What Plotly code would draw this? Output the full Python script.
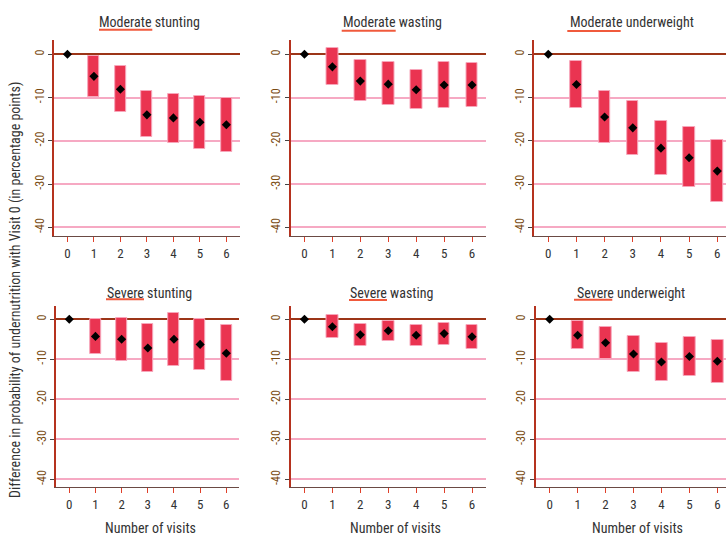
import plotly.graph_objects as go

visits = [0, 1, 2, 3, 4, 5, 6]
ytick_vals = [0, -10, -20, -30, -40]
ytick_text = ["0", "-10", "-20", "-30", "-40"]

title_prefix = ["Moderate", "Moderate", "Moderate", "Severe", "Severe", "Severe"]
title_rest = ["stunting", "wasting", "underweight", "stunting", "wasting", "underweight"]

# point estimates, upper and lower bounds (percentage points)
mod_stunting_est = [0, -5.1, -8.1, -14.0, -14.7, -15.7, -16.3]
mod_stunting_hi = [0, -0.4, -2.7, -8.6, -9.1, -9.7, -10.0]
mod_stunting_lo = [0, -9.9, -13.4, -19.1, -20.4, -21.8, -22.5]

mod_wasting_est = [0, -2.9, -6.2, -6.9, -8.2, -7.1, -7.1]
mod_wasting_hi = [0, 1.5, -1.4, -1.8, -3.7, -1.8, -1.9]
mod_wasting_lo = [0, -7.2, -10.9, -11.8, -12.7, -12.3, -12.1]

mod_under_est = [0, -7.0, -14.5, -17.0, -21.7, -23.9, -27.0]
mod_under_hi = [0, -1.6, -8.5, -10.8, -15.4, -16.9, -19.9]
mod_under_lo = [0, -12.4, -20.5, -23.3, -27.9, -30.7, -34.2]

sev_stunting_est = [0, -4.3, -5.0, -7.2, -5.0, -6.3, -8.5]
sev_stunting_hi = [0, 0.0, 0.4, -1.2, 1.5, 0.0, -1.4]
sev_stunting_lo = [0, -8.6, -10.4, -13.1, -11.6, -12.6, -15.5]

sev_wasting_est = [0, -1.9, -3.9, -2.9, -4.0, -3.6, -4.4]
sev_wasting_hi = [0, 1.0, -1.2, -0.5, -1.4, -0.9, -1.4]
sev_wasting_lo = [0, -4.7, -6.6, -5.4, -6.6, -6.5, -7.5]

sev_under_est = [0, -4.0, -5.9, -8.7, -10.7, -9.3, -10.5]
sev_under_hi = [0, -0.4, -2.0, -4.2, -5.9, -4.5, -5.2]
sev_under_lo = [0, -7.5, -10.0, -13.3, -15.5, -14.2, -16.0]

panels = [
    (mod_stunting_est, mod_stunting_hi, mod_stunting_lo),
    (mod_wasting_est, mod_wasting_hi, mod_wasting_lo),
    (mod_under_est, mod_under_hi, mod_under_lo),
    (sev_stunting_est, sev_stunting_hi, sev_stunting_lo),
    (sev_wasting_est, sev_wasting_hi, sev_wasting_lo),
    (sev_under_est, sev_under_hi, sev_under_lo),
]

W, H = 726, 537
FONT = "Liberation Sans Narrow, Roboto Condensed, DejaVu Sans Condensed, Arial Narrow, Roboto, sans-serif"

# layout in pixels (left, right, top, bottom, xmax)
px_dom = [
    (54.2, 239.6, 40, 236, 6.5),
    (290.5, 486.0, 40, 236, 6.5),
    (534.2, 726.0, 40, 236, 6.31),
    (56.2, 239.4, 306, 487.3, 6.5),
    (290.5, 486.0, 306, 487.3, 6.5),
    (535.7, 726.0, 306, 487.3, 6.31),
]

BAR = "#EA3451"
BAR_EDGE = "#F7A6BA"
GRID = "#F6A9C3"
ZERO = "#9C3518"

fig = go.Figure()
layout = {}
for i, ((est, hi, lo), (l, r, t, b, xmax)) in enumerate(zip(panels, px_dom)):
    n = i + 1
    xa = "x" if n == 1 else f"x{n}"
    ya = "y" if n == 1 else f"y{n}"
    fig.add_trace(go.Bar(
        x=visits[1:], base=lo[1:], y=[h - q for h, q in zip(hi[1:], lo[1:])],
        width=0.42, marker=dict(color=BAR, line=dict(color=BAR_EDGE, width=1)),
        xaxis=xa, yaxis=ya, showlegend=False, hoverinfo="skip"))
    fig.add_trace(go.Scatter(
        x=visits, y=est, mode="markers",
        marker=dict(symbol="diamond", size=7, color="black"),
        xaxis=xa, yaxis=ya, showlegend=False))
    xk = "xaxis" if n == 1 else f"xaxis{n}"
    yk = "yaxis" if n == 1 else f"yaxis{n}"
    layout[xk] = dict(
        domain=[l / W, r / W], anchor=ya, range=[-0.5, xmax],
        tickvals=visits, ticks="outside", ticklen=5, tickcolor="#E0402A", tickwidth=1.2,
        showline=True, linecolor="#6A4A44", linewidth=1.3, showgrid=False, zeroline=False,
        tickfont=dict(family=FONT, size=13, color="#333333"), fixedrange=True)
    layout[yk] = dict(
        domain=[1 - b / H, 1 - t / H], anchor=xa, range=[-42, 3.3],
        tickvals=ytick_vals, ticktext=ytick_text, tickangle=-90,
        ticks="outside", ticklen=4, tickcolor="#444444", tickwidth=1.2,
        showline=True, linecolor="#B5321E", linewidth=1.5,
        showgrid=True, gridcolor=GRID, gridwidth=1.5,
        zeroline=True, zerolinecolor=ZERO, zerolinewidth=1.6,
        tickfont=dict(family=FONT, size=12, color="#7A4B12"), fixedrange=True)

title_pos = [(149.5, 22), (392, 22), (631.5, 22), (149.5, 292.5), (391.5, 292.5), (630.5, 292.5)]
underline = [(99, 152.3, 29.8), (341.7, 395.7, 30.8), (567.3, 620.7, 31), (106, 144, 299.3), (349, 387, 300), (574, 612.3, 299.7)]

annotations = []
shapes = []
for (cx, cy), pre, rest, (ux0, ux1, uy) in zip(title_pos, title_prefix, title_rest, underline):
    annotations.append(dict(
        x=cx / W, y=1 - cy / H, xref="paper", yref="paper", showarrow=False,
        text=f"{pre} {rest}", xanchor="center", yanchor="middle",
        font=dict(family=FONT, size=14, color="#333333")))
    shapes.append(dict(type="line", xref="paper", yref="paper",
                       x0=ux0 / W, x1=ux1 / W, y0=1 - uy / H, y1=1 - uy / H,
                       line=dict(color="#F05A3C", width=2)))

for cx in (150, 395, 637.7):
    annotations.append(dict(
        x=cx / W, y=1 - 527.5 / H, xref="paper", yref="paper", showarrow=False,
        text="Number of visits", xanchor="center", yanchor="middle",
        font=dict(family=FONT, size=14, color="#333333")))

annotations.append(dict(
    x=15 / W, y=1 - 290 / H, xref="paper", yref="paper", showarrow=False,
    text="Difference in probability of undernutrition with Visit 0 (in percentage points)",
    textangle=-90, xanchor="center", yanchor="middle",
    font=dict(family=FONT, size=14, color="#333333")))

fig.update_layout(
    width=W, height=H, margin=dict(l=0, r=0, t=0, b=0),
    paper_bgcolor="white", plot_bgcolor="white",
    annotations=annotations, shapes=shapes, bargap=0, **layout)

fig.write_html("out.html", config={"displayModeBar": False},
               post_script="document.body.style.margin='0';document.body.style.overflow='hidden';")
